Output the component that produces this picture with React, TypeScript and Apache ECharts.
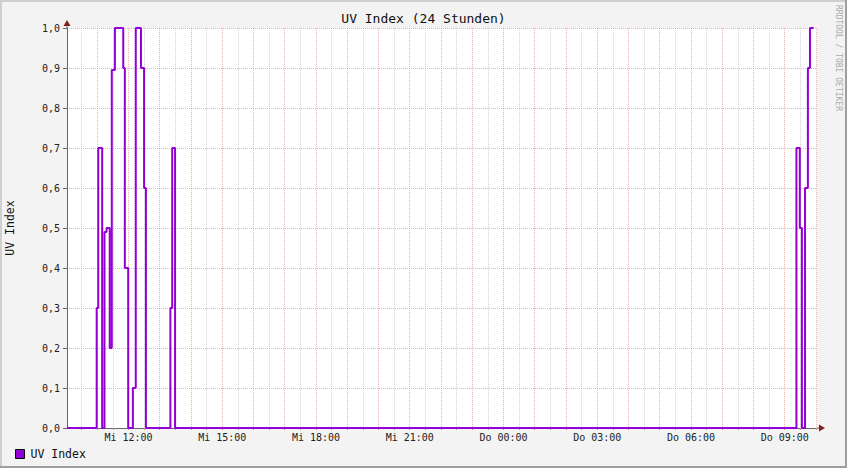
import { useEffect, useRef } from 'react';
import * as echarts from 'echarts';

const CHART_TITLE = 'UV Index (24 Stunden)';
const SERIES_NAME = 'UV Index';
const AXIS_NAME = 'UV Index';
const WATERMARK = 'RRDTOOL / TOBI OETIKER';

// Time window in minutes since Wednesday 00:00
const xStart = 602;
const xEnd = 2042;
const dayNames = ['Mi', 'Do'];
const xLabelTicks = [720, 900, 1080, 1260, 1440, 1620, 1800, 1980];
const gridStepMinutes = 30;
const gridTicks: number[] = Array.from(
  { length: Math.floor((xEnd - 630) / gridStepMinutes) + 1 },
  (_, i) => 630 + i * gridStepMinutes
);

// UV index step data: value holds from the given time until the next one
const uvTimes = [602, 659, 662, 669.5, 674, 678, 684, 688, 694, 710, 713, 719.5, 728.5, 734, 744, 750, 753.5, 800.5, 804, 809.5, 2002.5, 2009, 2013, 2019, 2024.5, 2028.5, 2035.5];
const uvValues = [0, 0.3, 0.7, 0, 0.49, 0.5, 0.2, 0.895, 1.0, 0.9, 0.4, 0, 0.1, 1.0, 0.9, 0.6, 0, 0.3, 0.7, 0, 0.7, 0.5, 0, 0.6, 0.9, 1.0, 1.0];

const MONO = '"DejaVu Sans Mono", monospace';
const MGRID = 'rgba(222,80,80,0.45)';
const GRID = 'rgba(150,150,150,0.42)';

function fmtTime(m: number): string {
  const day = dayNames[Math.floor(m / 1440)] ?? '';
  const mm = ((m % 1440) + 1440) % 1440;
  const h = Math.floor(mm / 60);
  const mi = Math.round(mm % 60);
  return `${day} ${String(h).padStart(2, '0')}:${String(mi).padStart(2, '0')}`;
}

export default function App() {
  const ref = useRef<HTMLDivElement>(null);
  useEffect(() => {
    if (!ref.current) return;
    const chart = echarts.init(ref.current, undefined, { renderer: 'svg' });
    chart.setOption({
      animation: false,
      backgroundColor: '#f3f3f3',
      title: {
        text: CHART_TITLE,
        left: 'center',
        top: 12,
        padding: 0,
        textStyle: { fontFamily: MONO, fontSize: 13, fontWeight: 'normal', color: '#111' },
      },
      legend: {
        left: 15,
        top: 448,
        padding: 0,
        icon: 'rect',
        itemWidth: 9,
        itemHeight: 9,
        itemGap: 10,
        itemStyle: { borderColor: '#000', borderWidth: 1 },
        textStyle: { fontFamily: MONO, fontSize: 11.5, color: '#111', padding: [0, 0, 0, 1] },
        data: [SERIES_NAME],
      },
      grid: {
        left: 67,
        right: 30,
        top: 28,
        bottom: 40,
        show: true,
        backgroundColor: '#ffffff',
        borderWidth: 0,
        containLabel: false,
        outerBoundsMode: 'none',
      },
      xAxis: {
        type: 'value',
        min: xStart,
        max: xEnd,
        position: 'bottom',
        axisLine: { show: true, lineStyle: { color: '#666', width: 1 } },
        axisTick: {
          show: true,
          customValues: gridTicks,
          length: 2,
          lineStyle: { color: '#d09090' },
        },
        axisLabel: {
          customValues: xLabelTicks,
          formatter: (v: number) => fmtTime(v),
          fontFamily: MONO,
          fontSize: 10,
          color: '#222',
          margin: 4,
        },
        splitLine: {
          show: true,
          lineStyle: { color: [GRID, MGRID], type: 'dotted', width: 1 },
        },
      },
      yAxis: {
        type: 'value',
        min: 0,
        max: 1,
        interval: 0.1,
        name: AXIS_NAME,
        nameLocation: 'middle',
        nameRotate: 90,
        nameGap: 51,
        nameTextStyle: { fontFamily: MONO, fontSize: 11.5, color: '#111' },
        axisLine: { show: true, lineStyle: { color: '#666', width: 1 } },
        axisTick: { show: true, length: 4, lineStyle: { color: '#666' } },
        axisLabel: {
          formatter: (v: number) => v.toFixed(1).replace('.', ','),
          fontFamily: MONO,
          fontSize: 10,
          color: '#222',
          margin: 7,
        },
        splitLine: { show: true, lineStyle: { color: MGRID, type: 'dotted', width: 1 } },
      },
      graphic: [
        { type: 'rect', shape: { x: 0, y: 0, width: 847, height: 2 }, style: { fill: '#cfcfcf' } },
        { type: 'rect', shape: { x: 0, y: 0, width: 2, height: 468 }, style: { fill: '#cfcfcf' } },
        { type: 'rect', shape: { x: 845, y: 0, width: 2, height: 468 }, style: { fill: '#9e9e9e' } },
        { type: 'rect', shape: { x: 0, y: 466, width: 847, height: 2 }, style: { fill: '#9e9e9e' } },
        { type: 'line', shape: { x1: 67, y1: 28, x2: 67, y2: 23 }, style: { stroke: '#666', lineWidth: 1 } },
        { type: 'line', shape: { x1: 817, y1: 428, x2: 821, y2: 428 }, style: { stroke: '#666', lineWidth: 1 } },
        { type: 'polygon', shape: { points: [[63.5, 26], [70.5, 26], [67, 20]] }, style: { fill: '#802020' } },
        { type: 'polygon', shape: { points: [[819, 424.5], [819, 431.5], [825, 428]] }, style: { fill: '#802020' } },
        {
          type: 'text',
          x: 838,
          y: 5,
          rotation: -Math.PI / 2,
          style: {
            text: WATERMARK,
            fill: '#aaaaaa',
            fontFamily: MONO,
            fontSize: 8,
            align: 'left',
            verticalAlign: 'middle',
          },
        },
      ],
      series: [
        {
          name: SERIES_NAME,
          type: 'line',
          step: 'end',
          showSymbol: false,
          symbol: 'none',
          color: '#9400d3',
          lineStyle: { color: '#9400d3', width: 2 },
          itemStyle: { color: '#9400d3' },
          data: uvTimes.map((t, i) => [t, uvValues[i]]),
          z: 5,
        },
      ],
    });
    return () => chart.dispose();
  }, []);
  return (
    <div
      ref={ref}
      style={{ position: 'fixed', left: 0, top: 0, width: 847, height: 468 }}
    />
  );
}
